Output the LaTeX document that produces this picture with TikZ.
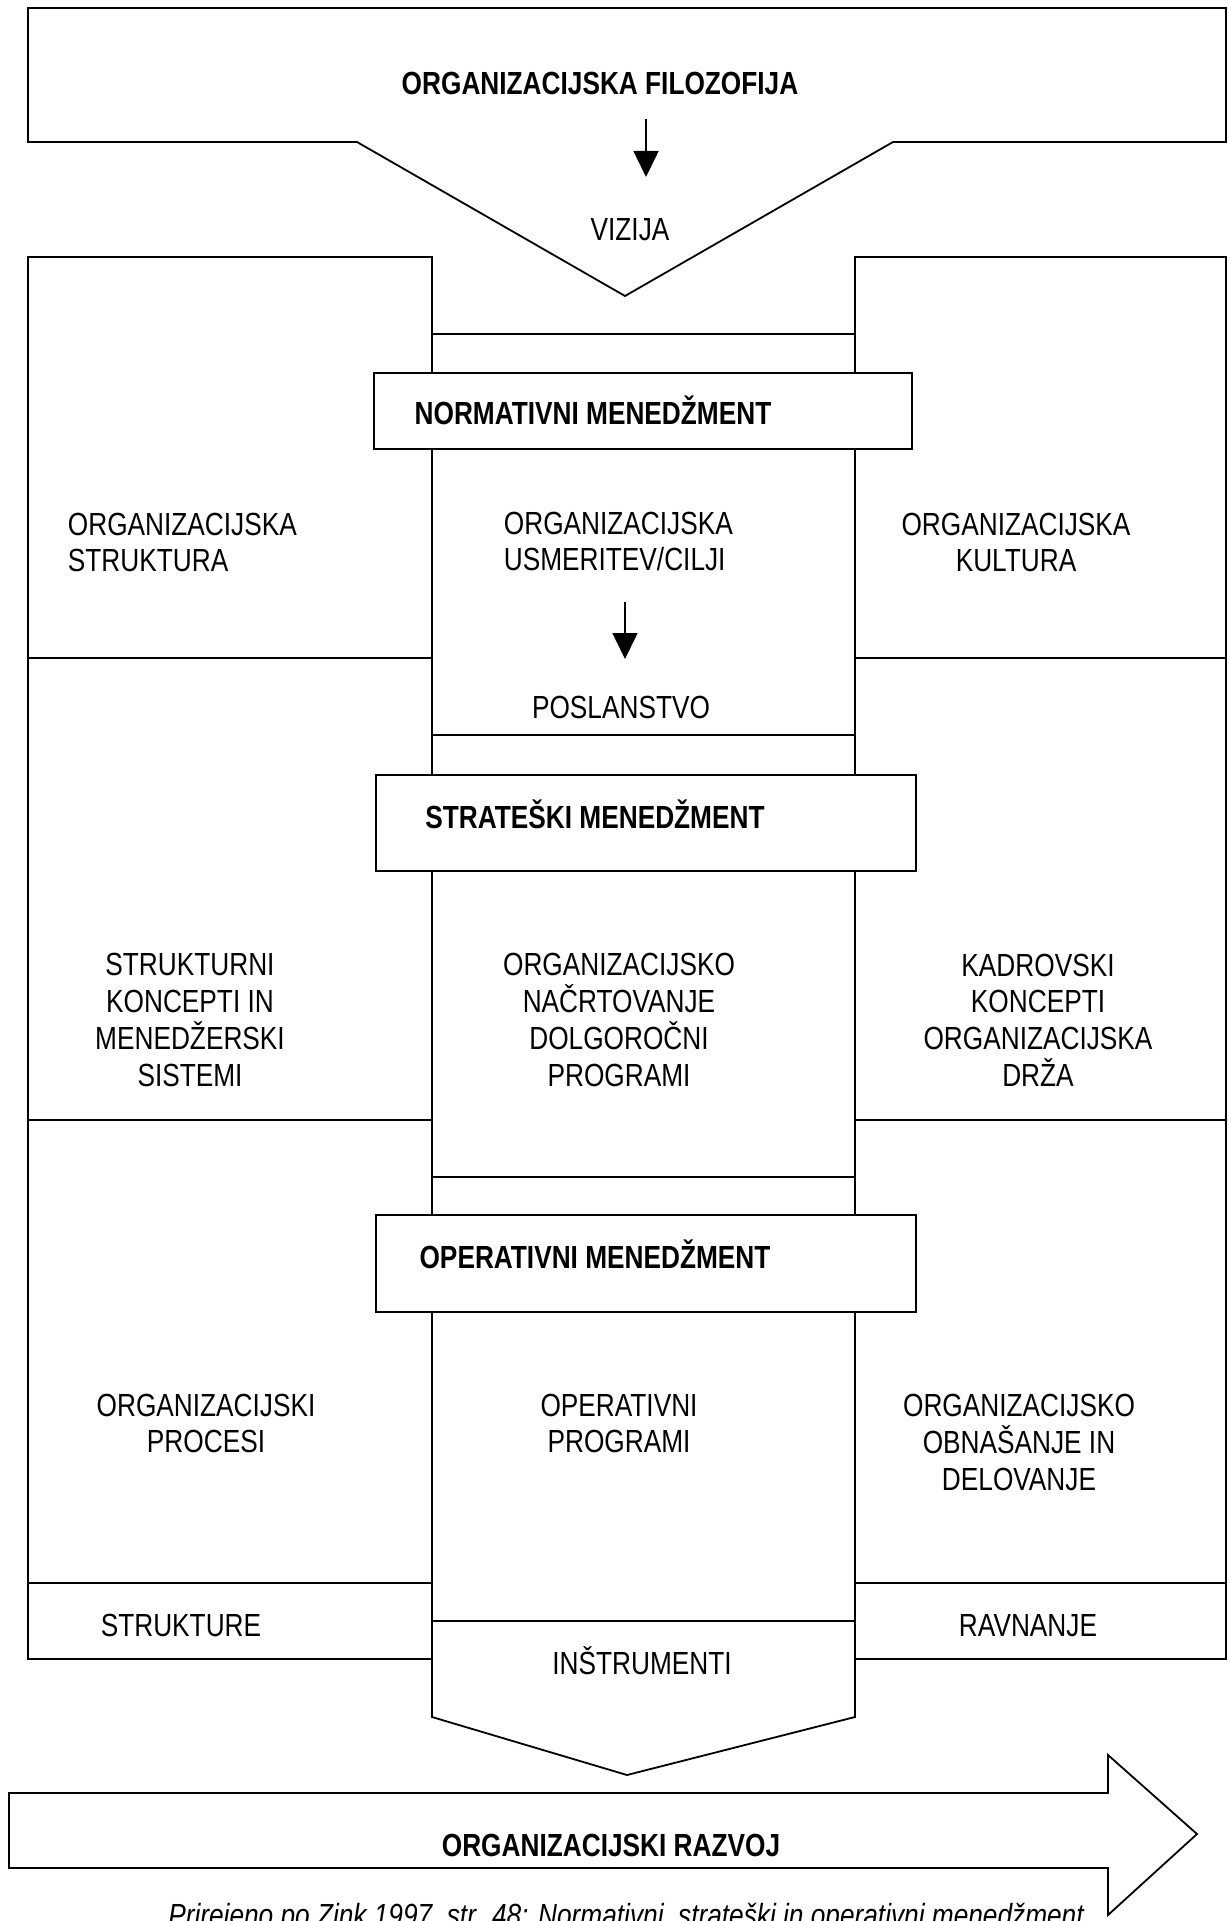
\documentclass[tikz,border=0pt]{standalone}
\usepackage{fontspec}
\setmainfont[FakeStretch=0.82]{Liberation Sans}
\usetikzlibrary{arrows.meta,positioning}

\begin{document}
\begin{tikzpicture}[
  x=0.5pt, y=-0.5pt,
  line width=0.9pt,
  txt/.style={
    inner sep=0pt,
    align=center,
    font=\fontsize{16}{18.35}\selectfont
    },
  oneline/.style={txt, text height=11.5pt, text depth=0pt},
  boldline/.style={oneline, font=\fontsize{16}{18.35}\selectfont\bfseries},
  mgbox/.style={
    draw,
    fill=white,
    rectangle,
    inner sep=0pt,
    minimum width=270pt
    },
  smallarrow/.style={line width=0.8pt, -{Triangle[length=13pt,width=12.5pt]}}
]
\useasboundingbox (0,0) rectangle (1228,1921);
\fill[white] (0,0) rectangle (1228,1921);

% filozofija na vrhu
\draw (28,8) -- (1226,8) -- (1226,142) -- (893,142) -- (625,296)
  -- (357,142) -- (28,142) -- cycle;
\node[boldline] (filo) at (600,83) {ORGANIZACIJSKA FILOZOFIJA};
\node[oneline] (vizija) at (630,229) {VIZIJA};
\coordinate (a1s) at (646,119);
\coordinate (a1e) at (646,177);
\draw[smallarrow] (a1s) -- (a1e);

% stolpca levo in desno
\foreach \ya/\yb in {257/658, 658/1120, 1120/1583, 1583/1659}
{
  \draw (28,\ya) rectangle (432,\yb);
  \draw (855,\ya) rectangle (1226,\yb);
}
% srednji stolpec
\foreach \y in {334, 735, 1177, 1621}
  \draw (432,\y) -- (855,\y);
\draw (432,1659) -- (432,1717) -- (627,1775) -- (855,1717) -- (855,1659);

% ravni menedzmenta
\node[mgbox, minimum width=269pt, minimum height=38pt] (normbox) at (643,411) {};
\node[mgbox, minimum height=48pt] (stratbox) at (646,823) {};
\node[mgbox, minimum height=48.5pt] (operbox) at (646,1263.5) {};
\node[boldline] (normt) at (593,413) {NORMATIVNI MENEDŽMENT};
\node[boldline] (stratt) at (595,817) {STRATEŠKI MENEDŽMENT};
\node[boldline] (opert) at (595,1257) {OPERATIVNI MENEDŽMENT};

% normativna raven
\node[txt, align=left, anchor=west] (orgstr) at (67,542.5)
  {ORGANIZACIJSKA\\STRUKTURA};
\node[txt, align=left, anchor=west] (orgusm) at (503,541.5)
  {ORGANIZACIJSKA\\USMERITEV/CILJI};
\node[txt] (orgkult) at (1016,542.5) {ORGANIZACIJSKA\\KULTURA};
\coordinate (a2s) at (625,602);
\coordinate (a2e) at (625,659);
\draw[smallarrow] (a2s) -- (a2e);
\node[oneline] (poslan) at (621,707) {POSLANSTVO};

% strateska raven
\node[txt] (strukon) at (190,1020)
  {STRUKTURNI\\KONCEPTI IN\\MENEDŽERSKI\\SISTEMI};
\node[txt] (nacrt) at (619,1020)
  {ORGANIZACIJSKO\\NAČRTOVANJE\\DOLGOROČNI\\PROGRAMI};
\node[txt] (kadr) at (1038,1020)
  {KADROVSKI\\KONCEPTI\\ORGANIZACIJSKA\\DRŽA};

% operativna raven
\node[txt] (procesi) at (206,1423.5) {ORGANIZACIJSKI\\PROCESI};
\node[txt] (opprog) at (619,1423.5) {OPERATIVNI\\PROGRAMI};
\node[txt] (obnas) at (1019,1442.5)
  {ORGANIZACIJSKO\\OBNAŠANJE IN\\DELOVANJE};

% spodnja vrsta
\node[oneline] (struktr) at (181,1625) {STRUKTURE};
\node[oneline] (ravn) at (1028,1625) {RAVNANJE};
\node[oneline] (instr) at (642,1663) {INŠTRUMENTI};

% razvoj
\draw (9,1793) -- (1108,1793) -- (1108,1755) -- (1197,1834)
  -- (1108,1915) -- (1108,1868) -- (9,1868) -- cycle;
\node[boldline] (razvoj) at (611,1845) {ORGANIZACIJSKI RAZVOJ};
\node[txt, font=\fontsize{16}{18.35}\selectfont\itshape, anchor=base] (izvor)
  at (626,1926)
  {Prirejeno po Zink 1997, str. 48: Normativni, strateški in operativni menedžment};

\end{tikzpicture}
\end{document}
